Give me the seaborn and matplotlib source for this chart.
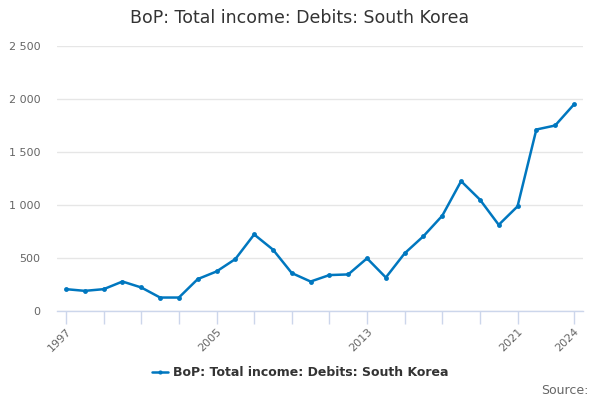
import matplotlib
matplotlib.use("Agg")
import matplotlib.pyplot as plt
import matplotlib.ticker as mticker
import pandas as pd
import seaborn as sns

# Data
years = list(range(1997, 2025))
debits = [206, 190, 206, 278, 222, 127, 127, 301, 373, 490,
          722, 579, 358, 278, 339, 345, 497, 316, 544, 706,
          899, 1225, 1051, 813, 987, 1712, 1750, 1949]
series_name = "BoP: Total income: Debits: South Korea"
tick_years = list(range(1997, 2022, 2)) + [2024]
label_years = [1997, 2005, 2013, 2021, 2024]

df = pd.DataFrame({"year": years, "value": debits, "series": series_name})

sns.set_style("white")
plt.rcParams["font.family"] = ["DejaVu Sans"]

fig = plt.figure(figsize=(6, 4), dpi=100)
ax = fig.add_axes([57 / 600, 1 - 311 / 400, 526 / 600, 265 / 400])

line_color = "#0077BF"
sns.lineplot(
    data=df,
    x="year",
    y="value",
    hue="series",
    palette=[line_color],
    marker="o",
    markersize=3.5,
    markeredgewidth=0,
    linewidth=1.8,
    legend=False,
    ax=ax
)

ax.set_xlim(1996.52, 2024.48)
ax.set_ylim(0, 2500)
ax.set_yticks([0, 500, 1000, 1500, 2000, 2500])
ax.yaxis.set_major_formatter(
    mticker.FuncFormatter(lambda v, p: f"{int(v):,}".replace(",", " "))
)
ax.grid(axis="y", color="#e6e6e6", linewidth=1)
ax.set_axisbelow(True)

ax.set_xticks(tick_years)
ax.set_xticklabels([str(y) if y in label_years else "" for y in tick_years],
                   rotation=45, ha="right", rotation_mode="anchor")

for s in ["top", "right", "left"]:
    ax.spines[s].set_visible(False)
ax.spines["bottom"].set_color("#ccd6eb")
ax.spines["bottom"].set_linewidth(1)

ax.tick_params(axis="x", colors="#ccd6eb", length=9, width=1, labelcolor="#666666",
               labelsize=8, pad=2, direction="out", bottom=True)
ax.tick_params(axis="y", length=0, labelcolor="#666666", labelsize=8, pad=12)
ax.set_xlabel("")
ax.set_ylabel("")

fig.text(0.5, 1 - 18 / 400, series_name, ha="center", va="center",
         fontsize=12.5, color="#333333")

# legend below the plot
handle = plt.Line2D([], [], color=line_color, marker="o", markersize=3,
                    markeredgewidth=0, linewidth=1.8)
fig.legend([handle], [series_name], loc="center", bbox_to_anchor=(0.5, 1 - 373 / 400),
           frameon=False, handlelength=1.3, handletextpad=0.4,
           prop={"weight": "bold", "size": 9}, labelcolor="#333333")

fig.text(589 / 600, 1 - 391 / 400, "Source:", ha="right", va="center",
         fontsize=9, color="#666666")

fig.savefig("out.png", dpi=100)
